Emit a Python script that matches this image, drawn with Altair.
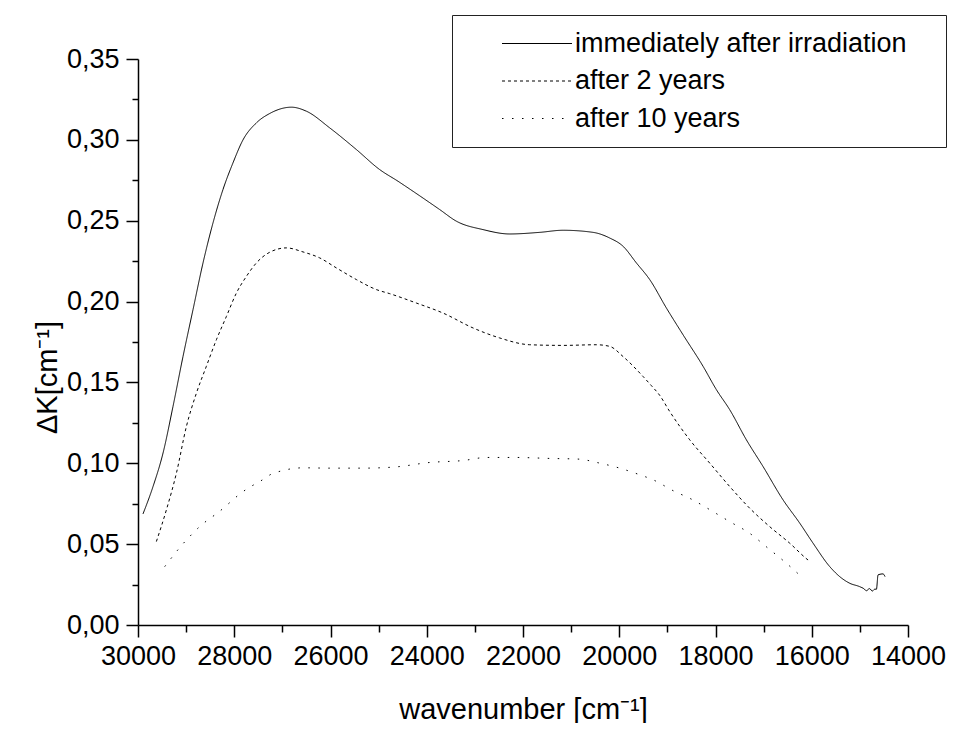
import altair as alt
import pandas as pd

series_names = ["immediately after irradiation", "after 2 years", "after 10 years"]

wn_0 = [29896, 29688, 29480, 29273, 29065, 28857, 28649, 28441, 28234, 28026,
        27818, 27540, 27263, 26812, 26500, 26016, 25462, 24977, 24597, 24285,
        23731, 23384, 22830, 22276, 21653, 21168, 20545, 20198, 19921, 19644,
        19367, 19020, 18675, 18259, 17981, 17704, 17358, 17012, 16597, 16250,
        15973, 15626, 15418, 15210, 15003, 14920, 14864, 14800, 14740, 14690,
        14656, 14622, 14519, 14477]
k_0 = [0.0687, 0.0856, 0.1063, 0.1351, 0.166, 0.195, 0.2239, 0.2487, 0.2693, 0.2858,
       0.300, 0.3105, 0.3163, 0.3202, 0.3177, 0.3074, 0.294, 0.2816, 0.2744, 0.2682,
       0.2569, 0.2497, 0.2445, 0.2418, 0.2428, 0.2441, 0.2428, 0.2393, 0.2342, 0.2239,
       0.2136, 0.196, 0.1795, 0.16, 0.1455, 0.1331, 0.1145, 0.098, 0.0774, 0.063,
       0.0506, 0.0361, 0.0299, 0.0258, 0.0237, 0.0225, 0.0212, 0.0225, 0.021, 0.0222,
       0.0221, 0.031, 0.0316, 0.0299]

wn_2 = [29618, 29410, 29202, 28994, 28786, 28579, 28371, 28163, 27955, 27747,
        27540, 27263, 26916, 26571, 26224, 25877, 25462, 25046, 24770, 24216,
        23662, 23039, 22484, 21861, 21168, 20475, 20198, 19921, 19506, 19332,
        19159, 18951, 18535, 18120, 17704, 17289, 16873, 16458, 16077, 16050]
k_2 = [0.0516, 0.0712, 0.0939, 0.1228, 0.1434, 0.160, 0.1764, 0.1908, 0.2053, 0.2156,
       0.2239, 0.2305, 0.2332, 0.2307, 0.227, 0.2208, 0.2136, 0.2074, 0.2049, 0.1991,
       0.1929, 0.1837, 0.1775, 0.1733, 0.1729, 0.1733, 0.1723, 0.166, 0.1537, 0.1480,
       0.1420, 0.1320, 0.1145, 0.1001, 0.0856, 0.0722, 0.0608, 0.0506, 0.0402, 0.0396]

wn_10 = [29445, 29273, 29098, 28926, 28753, 28566, 28337, 28109, 27922, 27714,
         27471, 27228, 27020, 26812, 26571, 26016, 25324, 24665, 23938, 23246,
         22760, 22136, 21445, 20857, 20406, 19990, 19575, 19298, 18883, 18500,
         18051, 17704, 17289, 16908, 16527, 16181]
k_10 = [0.0361, 0.0427, 0.0491, 0.0547, 0.0599, 0.0646, 0.0695, 0.0753, 0.0801, 0.0846,
        0.0887, 0.0933, 0.0953, 0.0966, 0.0972, 0.097, 0.097, 0.0977, 0.1005, 0.1017,
        0.1036, 0.1036, 0.103, 0.1026, 0.1001, 0.097, 0.0929, 0.0898, 0.0831, 0.0778,
        0.0701, 0.0639, 0.0567, 0.0475, 0.0382, 0.0289]

x_ticks = list(range(14000, 30001, 1000))
y_ticks = [round(i * 0.025, 3) for i in range(15)]

rows = []
for name, wns, ks in zip(series_names, [wn_0, wn_2, wn_10], [k_0, k_2, k_10]):
    for i, (w, k) in enumerate(zip(wns, ks)):
        rows.append({"series": name, "wn": w, "k": k, "order": i})
df = pd.DataFrame(rows)

FONT = "Liberation Sans"

chart = alt.Chart(df).mark_line(color="black", interpolate="monotone").encode(
    x=alt.X(
        "wn:Q",
        scale=alt.Scale(domain=[14000, 30000], reverse=True, nice=False, zero=False),
        axis=alt.Axis(
            title="wavenumber [cm\u207b\u00b9]",
            values=x_ticks,
            labelExpr="datum.value % 2000 === 0 ? format(datum.value, 'd') : ''",
            tickSize={"condition": {"test": "datum.value % 2000 !== 0", "value": 7}, "value": 12},
            labelPadding=6,
            labelOverlap=False,
            labelFlush=False,
            titleY=93,
            titleBaseline="alphabetic",
        ),
    ),
    y=alt.Y(
        "k:Q",
        scale=alt.Scale(domain=[0, 0.35], nice=False, zero=True),
        axis=alt.Axis(
            title="\u0394K[cm\u207b\u00b9]",
            values=y_ticks,
            labelExpr="round(datum.value * 1000) % 50 === 0 ? replace(format(datum.value, '.2f'), '.', ',') : ''",
            tickSize={"condition": {"test": "round(datum.value * 1000) % 50 !== 0", "value": 6}, "value": 12},
            labelPadding=7,
            labelOverlap=False,
            labelFlush=False,
            titleX=-82,
            titleY=318,
            titleBaseline="alphabetic",
        ),
    ),
    strokeDash=alt.StrokeDash(
        "series:N",
        scale=alt.Scale(domain=series_names, range=[[1, 0], [3, 3], [1.5, 8.5]]),
        legend=alt.Legend(
            title="x",
            titleOrient="right",
            titleFontSize=2,
            titlePadding=22,
            titleColor="white",
            orient="none",
            legendX=314,
            legendY=-44,
            symbolType="M-4,0H4",
            symbolSize=306,
            symbolStrokeWidth=1,
            symbolStrokeColor="black",
            symbolFillColor="transparent",
            rowPadding=9.5,
            padding=15,
            symbolOffset=56.5,
            labelOffset=24.5,
            labelFont=FONT,
            labelFontSize=27,
            labelColor="black",
            labelLimit=800,
            strokeColor="#222222",
            fillColor="white",
        ),
    ),
    strokeWidth=alt.StrokeWidth(
        "series:N",
        scale=alt.Scale(domain=series_names, range=[1, 1, 1.5]),
        legend=None,
    ),
    order="order:Q",
).properties(
    width=770,
    height=566,
    autosize=alt.AutoSizeParams(type="none"),
    padding={"left": 130, "top": 51, "right": 60, "bottom": 98},
).configure_view(
    strokeWidth=0
).configure_axis(
    grid=False,
    domainColor="black",
    domainWidth=1.5,
    tickColor="black",
    tickWidth=1.5,
    labelFont=FONT,
    labelFontSize=27,
    labelColor="black",
    titleFont=FONT,
    titleFontSize=29,
    titleFontWeight="normal",
    titleColor="black",
)

chart.save("out.html", embed_options={"renderer": "svg", "actions": False})
